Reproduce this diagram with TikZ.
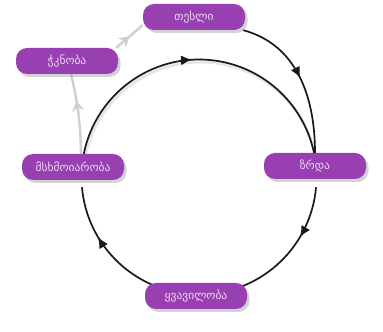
\documentclass[tikz,border=0pt]{standalone}
\usepackage{fontspec}
\newfontfamily\geofont{DejaVu Sans}
\usetikzlibrary{shadows,decorations.markings,arrows.meta,backgrounds}

\definecolor{stagefill}{HTML}{9840B2}
\definecolor{stagetext}{HTML}{EED6F4}
\definecolor{pathgray}{HTML}{CFCFCF}
\definecolor{arcshade}{HTML}{E6E6E6}

\tikzset{
  stage/.style={rounded corners=11pt, minimum width=102pt, minimum height=26pt,
    inner sep=0pt, fill=stagefill, text=stagetext,
    font=\geofont\fontsize{11.5}{13}\selectfont,
    drop shadow={shadow xshift=2.5pt, shadow yshift=-3pt, opacity=0.35}},
  cyclearc/.style={draw=black!90, line width=1.7pt},
  arcshadow/.style={draw=arcshade, line width=3pt,
    transform canvas={shift={(1.5pt,-2.5pt)}}},
  midarrow/.style={postaction={decorate}, decoration={markings,
    mark=at position #1 with {\arrow{Latex[length=11pt,width=10pt]}}}},
  midarrow/.default=0.5,
  ghostarrow/.style={draw=pathgray, line width=2.4pt, postaction={decorate},
    decoration={markings, mark=at position #1 with
      {\arrow[pathgray]{Stealth[length=10pt,width=12pt]}}}},
  ghostarrow/.default=0.6,
}

\begin{document}
\begin{tikzpicture}[x=1pt,y=1pt]
  \useasboundingbox (0,0) rectangle (383,332);
  \coordinate (hub) at (199,155);

  % life-cycle stages
  \node[stage] (seed)  at (194,315) {თესლი};
  \node[stage] (wilt)  at (67,271)  {ჭკნობა};
  \node[stage] (fruit) at (73,165)  {მსხმოიარობა};
  \node[stage] (grow)  at (315,166) {ზრდა};
  \node[stage] (bloom) at (196,36)  {ყვავილობა};

  \begin{scope}[on background layer]
    % soft shading under the cycle
    \draw[arcshadow] ([shift={(175:117.5)}]hub) arc[start angle=175, end angle=5, radius=117.5];

    % main cycle
    \draw[cyclearc, midarrow=0.48]
      ([shift={(175:117.5)}]hub) arc[start angle=175, end angle=5, radius=117.5];
    \draw[cyclearc, midarrow=0.31]
      ([shift={(-5:117.5)}]hub) arc[start angle=-5, end angle=-88, radius=117.5];
    \draw[cyclearc, midarrow=0.69]
      ([shift={(268:117.5)}]hub) arc[start angle=268, end angle=185, radius=117.5];
    \draw[cyclearc, midarrow=0.5] (seed) to[out=-15, in=90] (grow);

    % side path through withering
    \draw[ghostarrow=0.66] ([xshift=8pt]fruit.north) to[bend right=6] ([xshift=4pt]wilt.south);
    \draw[ghostarrow=0.5] ([xshift=-2pt]wilt.north east) -- ([yshift=-8pt]seed.west);
  \end{scope}
\end{tikzpicture}
\end{document}
